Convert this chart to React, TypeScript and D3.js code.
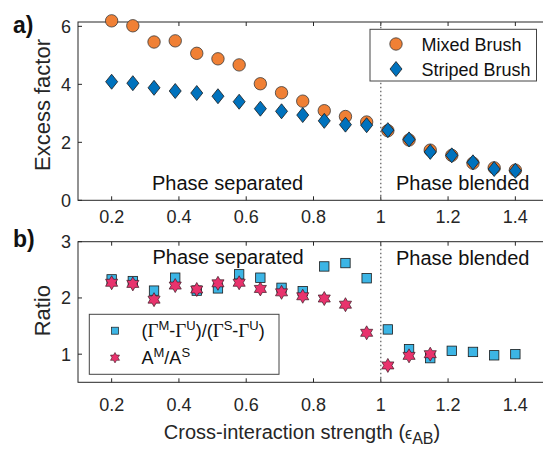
import { scaleLinear } from "d3";

// x positions of the simulations (cross-interaction strength)
const xVals = [0.2, 0.263, 0.326, 0.389, 0.453, 0.516, 0.579, 0.642, 0.705, 0.768,
  0.832, 0.895, 0.958, 1.021, 1.084, 1.147, 1.211, 1.274, 1.337, 1.4];

// panel a) excess factor
const mixedBrush = [6.19, 6.02, 5.46, 5.5, 5.07, 4.88, 4.67, 4.02, 3.71, 3.42,
  3.09, 2.89, 2.7, 2.4, 2.08, 1.73, 1.55, 1.28, 1.12, 1.04];
const stripedBrush = [4.09, 4.04, 3.88, 3.77, 3.7, 3.59, 3.4, 3.16, 3.07, 2.94,
  2.74, 2.61, 2.59, 2.42, 2.1, 1.67, 1.55, 1.31, 1.08, 1.02];

// panel b) ratios
const gammaRatio = [2.33, 2.3, 2.13, 2.36, 2.13, 2.17, 2.42, 2.36, 2.18, 2.12,
  2.56, 2.62, 2.35, 1.44, 1.09, 0.93, 1.06, 1.04, 0.98, 1.0];
const areaRatio = [2.27, 2.25, 1.97, 2.22, 2.15, 2.26, 2.27, 2.16, 2.1, 2.03,
  1.99, 1.88, 1.38, 0.8, 0.97, 1.0];

const xTicks = [0.2, 0.4, 0.6, 0.8, 1, 1.2, 1.4];
const yTicksA = [0, 2, 4, 6];
const yTicksB = [1, 2, 3];

const FONT = "'Liberation Sans', Arial, sans-serif";
const INK = "#262626";
const ORANGE = "#F08035";
const BLUE = "#0072BD";
const CYAN = "#3CB5E5";
const PINK = "#E8336D";

const hexagram = (cx: number, cy: number, R: number) => {
  const r = R / Math.sqrt(3);
  const pts: string[] = [];
  for (let i = 0; i < 12; i++) {
    const a = -Math.PI / 2 + (i * Math.PI) / 6;
    const rad = i % 2 === 0 ? R : r;
    pts.push(`${cx + rad * Math.cos(a)},${cy + rad * Math.sin(a)}`);
  }
  return `M${pts.join("L")}Z`;
};

const diamond = (cx: number, cy: number, w: number, h: number) =>
  `M${cx},${cy - h}L${cx + w},${cy}L${cx},${cy + h}L${cx - w},${cy}Z`;

const App = () => {
  const width = 543;
  const height = 449;

  const x = scaleLinear().domain([0.1, 1.5]).range([78, 549]);
  const yA = scaleLinear().domain([0, 6.15]).range([200.3, 22]);
  const yB = scaleLinear().domain([0.5, 3]).range([382.3, 241.7]);

  const frame = (y: any, yTicks: number[], labelY: number) => {
    const [y0, y1] = y.range();
    return (
      <g>
        <rect x={x(0.1)} y={y1} width={x(1.5) - x(0.1)} height={y0 - y1}
          fill="none" stroke={INK} strokeWidth={1} />
        {xTicks.map((t) => (
          <g key={t}>
            <line x1={x(t)} x2={x(t)} y1={y0} y2={y0 - 4} stroke={INK} />
            <line x1={x(t)} x2={x(t)} y1={y1} y2={y1 + 4} stroke={INK} />
            <text x={x(t)} y={labelY} textAnchor="middle" fontSize={18}
              fill={INK} fontFamily={FONT}>{t}</text>
          </g>
        ))}
        {yTicks.map((t) => (
          <g key={t}>
            <line x1={x(0.1)} x2={x(0.1) + 4} y1={y(t)} y2={y(t)} stroke={INK} />
            <text x={71} y={y(t)} dy="0.36em" textAnchor="end" fontSize={18}
              fill={INK} fontFamily={FONT}>{t}</text>
          </g>
        ))}
        <line x1={x(1)} x2={x(1)} y1={y0} y2={y1} stroke="#666"
          strokeWidth={1.3} strokeDasharray="1.5,2.5" />
      </g>
    );
  };

  return (
    <div style={{ position: "fixed", left: 0, top: 0 }}>
      <svg width={width} height={height} style={{ display: "block", background: "#fff" }}>
        {/* panel a */}
        {frame(yA, yTicksA, 223)}
        <text x={152} y={190} fontSize={20} fill="#111" fontFamily={FONT}>Phase separated</text>
        <text x={396} y={190} fontSize={20} fill="#111" fontFamily={FONT}>Phase blended</text>
        {mixedBrush.map((v, i) => (
          <circle key={i} cx={x(xVals[i])} cy={yA(v)} r={6.2} fill={ORANGE}
            stroke="#3a3a3a" strokeWidth={0.8} />
        ))}
        {stripedBrush.map((v, i) => (
          <path key={i} d={diamond(x(xVals[i]), yA(v), 6, 7.5)} fill={BLUE}
            stroke="#1a1a1a" strokeWidth={0.8} />
        ))}
        <rect x={370} y={29.3} width={166.5} height={51.7} fill="#fff" stroke="#444" strokeWidth={1} />
        <circle cx={396} cy={44} r={6.2} fill={ORANGE} stroke="#3a3a3a" strokeWidth={0.8} />
        <path d={diamond(396, 69, 6, 7.5)} fill={BLUE} stroke="#1a1a1a" strokeWidth={0.8} />
        <text x={421.5} y={50.5} fontSize={18} fill="#111" fontFamily={FONT}>Mixed Brush</text>
        <text x={421.5} y={75.5} fontSize={18} fill="#111" fontFamily={FONT}>Striped Brush</text>
        <text x={13} y={33} fontSize={23} fontWeight="bold" fill="#111" fontFamily={FONT}>a)</text>
        <text transform="translate(50,105) rotate(-90)" textAnchor="middle" fontSize={22}
          fill={INK} fontFamily={FONT}>Excess factor</text>

        {/* panel b */}
        {frame(yB, yTicksB, 411)}
        <text x={152.5} y={263.5} fontSize={20} fill="#111" fontFamily={FONT}>Phase separated</text>
        <text x={396} y={265} fontSize={20} fill="#111" fontFamily={FONT}>Phase blended</text>
        {gammaRatio.map((v, i) => (
          <rect key={i} x={x(xVals[i]) - 4.7} y={yB(v) - 4.7} width={9.4} height={9.4}
            fill={CYAN} stroke="#1a1a1a" strokeWidth={0.8} />
        ))}
        {areaRatio.map((v, i) => (
          <path key={i} d={hexagram(x(xVals[i]), yB(v), 7)} fill={PINK}
            stroke="#3a1a24" strokeWidth={0.7} />
        ))}
        <rect x={89.3} y={314.3} width={189.7} height={60} fill="#fff" stroke="#444" strokeWidth={1} />
        <rect x={111.5} y={327.2} width={7} height={7} fill={CYAN} stroke="#1a1a1a" strokeWidth={0.7} />
        <path d={hexagram(115, 357.7, 5.2)} fill={PINK} stroke="#3a1a24" strokeWidth={0.6} />
        <text x={141.5} y={337} fontSize={18} fill="#111" fontFamily={FONT}>
          (<tspan fontFamily="'Liberation Serif', serif" fontSize={19}>Γ</tspan>
          <tspan fontSize={13} dy={-7}>M</tspan>
          <tspan dy={7}>-</tspan>
          <tspan fontFamily="'Liberation Serif', serif" fontSize={19}>Γ</tspan>
          <tspan fontSize={13} dy={-7}>U</tspan>
          <tspan dy={7}>)/(</tspan>
          <tspan fontFamily="'Liberation Serif', serif" fontSize={19}>Γ</tspan>
          <tspan fontSize={13} dy={-7}>S</tspan>
          <tspan dy={7}>-</tspan>
          <tspan fontFamily="'Liberation Serif', serif" fontSize={19}>Γ</tspan>
          <tspan fontSize={13} dy={-7}>U</tspan>
          <tspan dy={7}>)</tspan>
        </text>
        <text x={141.5} y={364} fontSize={18} fill="#111" fontFamily={FONT}>
          A<tspan fontSize={13} dy={-7}>M</tspan>
          <tspan dy={7}>/A</tspan>
          <tspan fontSize={13} dy={-7}>S</tspan>
        </text>
        <text x={13} y={247} fontSize={23} fontWeight="bold" fill="#111" fontFamily={FONT}>b)</text>
        <text transform="translate(50,310.7) rotate(-90)" textAnchor="middle" fontSize={22}
          fill={INK} fontFamily={FONT}>Ratio</text>

        <text x={302} y={439} textAnchor="middle" fontSize={20} fill={INK} fontFamily={FONT}>
          Cross-interaction strength (<tspan fontSize={16}>ϵ</tspan>
          <tspan fontSize={16} dy={5}>AB</tspan>
          <tspan dy={-5}>)</tspan>
        </text>
      </svg>
    </div>
  );
};

export default App;
